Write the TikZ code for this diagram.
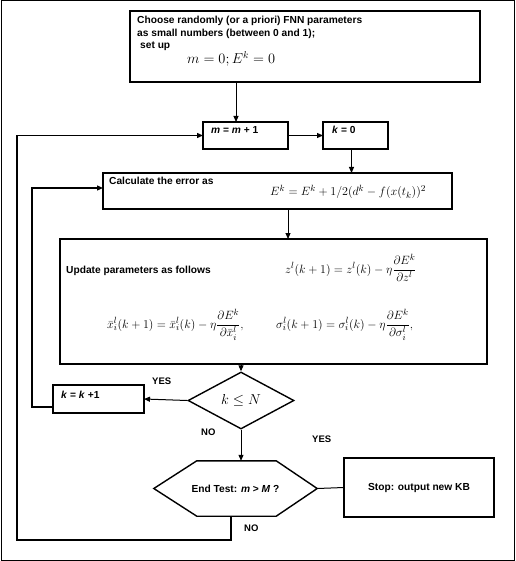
\documentclass[tikz,border=0pt]{standalone}
\usepackage[no-math]{fontspec}
\setmainfont{Liberation Sans}
\usetikzlibrary{arrows.meta,shapes.geometric}
\begin{document}
\begin{tikzpicture}[x=1pt,y=-1pt,
  box/.style={draw, line width=1.6pt, rectangle, inner sep=0pt, outer sep=0pt},
  txt/.style={font=\fontsize{10.2}{12}\selectfont\bfseries, inner sep=0pt, anchor=base west},
  lbl/.style={font=\fontsize{9.5}{11}\selectfont\bfseries, inner sep=0pt, anchor=base west},
  eq/.style={inner sep=0pt, anchor=base west, font=\fontsize{13}{15}\selectfont},
  arr/.style={-{Triangle[length=6pt,width=5pt]}, line width=1pt},
  conn/.style={line width=1pt},
  loopline/.style={-{Triangle[length=6pt,width=5pt]}, line width=1.3pt}]
\useasboundingbox (0,0) rectangle (515,561);
\draw[line width=1pt] (1,1) rectangle (514,560);
% start box
\node[box, minimum width=350, minimum height=71] (b1) at (305,46.5) {};
\node[txt] (t1a) at (137,24) {Choose randomly (or a priori) FNN parameters};
\node[txt] (t1b) at (137,37) {as small numbers (between 0 and 1);};
\node[txt] (t1c) at (140,49) {set up};
\node[eq, font=\fontsize{14}{16}\selectfont] (e1) at (187,64) {$m=0; E^k=0$};
% m box, k box
\node[box, minimum width=85, minimum height=27] (mbox) at (245.5,135.5) {};
\node[txt] (tm) at (211,134) {\textit{m} = \textit{m} + 1};
\node[box, minimum width=65, minimum height=27] (kbox) at (355.5,135.5) {};
\node[txt] (tk) at (332,134) {\textit{k} = 0};
% calc box
\node[box, minimum width=349, minimum height=36] (calc) at (277.5,191) {};
\node[txt] (tc) at (109,185) {Calculate the error as};
\node[eq] (ec) at (270,196) {$E^k = E^k + 1/2(d^k - f(x(t_k))^2$};
% update box
\node[box, line width=1.2pt, minimum width=427, minimum height=125] (upd) at (273.5,301.5) {};
\node[txt] (tu) at (66,273) {Update parameters as follows};
\node[eq] (eu1) at (285,273) {$\displaystyle z^l(k+1) = z^l(k) - \eta\frac{\partial E^k}{\partial z^l}$};
\node[eq] (eu2) at (107,328) {$\displaystyle \bar{x}_i^l(k+1) = \bar{x}_i^l(k) - \eta\frac{\partial E^k}{\partial \bar{x}_i^l},$};
\node[eq] (eu3) at (276,328) {$\displaystyle \sigma_i^l(k+1) = \sigma_i^l(k) - \eta\frac{\partial E^k}{\partial \sigma_i^l},$};
% diamond
\node[diamond, draw, line width=1.4pt, minimum width=106, minimum height=57, inner sep=0pt, font=\fontsize{14}{16}\selectfont] (dia) at (241,400.5) {$k\le N$};
% k = k+1
\node[box, minimum width=91, minimum height=28] (kk) at (98.5,399) {};
\node[txt] (tkk) at (61,398) {\textit{k} = \textit{k} +1};
% hexagon
\node[minimum width=163, minimum height=55, inner sep=0pt, font=\fontsize{10.2}{12}\selectfont\bfseries] (hex) at (235.5,488.5) {End Test: \textit{m} > \textit{M} ?};
\draw[line width=1.4pt] (hex.west) -- ([xshift=43pt]hex.north west) -- ([xshift=-41pt]hex.north east) -- (hex.east) -- ([xshift=-41pt]hex.south east) -- ([xshift=43pt]hex.south west) -- cycle;
% stop box
\node[box, minimum width=150, minimum height=59, font=\fontsize{10.2}{12}\selectfont\bfseries] (stop) at (419,487.5) {Stop: output new KB};
% labels
\node[lbl] (yes1) at (152,384) {YES};
\node[lbl] (no1) at (201,435) {NO};
\node[lbl] (yes2) at (312,442) {YES};
\node[lbl] (no2) at (244,531) {NO};
% helper coordinates
\coordinate (a1) at (236,0);
\coordinate (a2) at (288,0);
\coordinate (lb) at (17,540);
\coordinate (l2) at (32,407);
% connectors
\draw[arr] (b1.south -| a1) -- (mbox.north -| a1);
\draw[arr] (mbox.east) -- (kbox.west);
\draw[arr] ([xshift=-4pt]kbox.south) -- ([xshift=-4pt]kbox.south |- calc.north);
\draw[arr] (calc.south -| a2) -- (upd.north -| a2);
\draw[arr] (upd.south -| dia.north) -- (dia.north);
\draw[arr] (dia.west) -- (kk.east);
\draw[arr] (dia.south) -- (dia.south |- hex.north);
\draw[conn] (hex.east) -- (stop.west);
\draw[loopline] ([yshift=-8pt]kk.west) -| (l2) |- ([yshift=3pt]calc.west);
\draw[loopline] ([xshift=-4.5pt]hex.south) |- (lb) |- (mbox.west);
\end{tikzpicture}
\end{document}
